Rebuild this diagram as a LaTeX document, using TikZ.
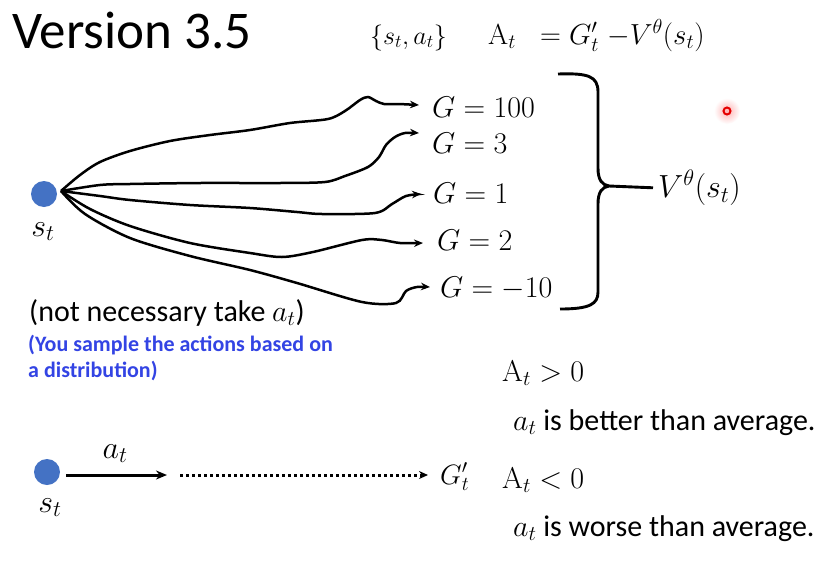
\documentclass[tikz,border=0pt]{standalone}
\usepackage{fix-cm}
\usepackage[no-math]{fontspec}
\setmainfont{Carlito}
\usetikzlibrary{arrows.meta}
\definecolor{dotblue}{HTML}{4472C4}
\definecolor{noteblue}{HTML}{3344E4}
\begin{document}
\begin{tikzpicture}[x=1pt,y=-1pt,
  every node/.style={inner sep=0pt},
  dotnode/.style={circle,fill=dotblue,minimum size=26pt},
  mfont/.style={font=\fontsize{30}{34}\selectfont},
  tfont/.style={font=\fontsize{30}{34}\selectfont},
  sfont/.style={font=\fontsize{32}{36}\selectfont},
  traj/.style={line width=2.5pt,-{Stealth[length=9pt,width=7.5pt]},smooth,tension=0.5},
  bracestyle/.style={line width=2.9pt},
]
\useasboundingbox[fill=white] (0,0) rectangle (830,560);

% title and formula
\node[anchor=base west,font=\fontsize{53}{60}\selectfont] (title) at (12,48) {Version 3.5};
\node[anchor=base west,font=\fontsize{26}{30}\selectfont] (sa) at (370,44) {$\{s_t,a_t\}$};
\node[anchor=base west,font=\fontsize{29}{33}\selectfont] (adv) at (488,44) {$\mathrm{A}_t\;\;=G'_t\;{-}V^{\theta}(s_t)$};

% upper state
\node[dotnode] (s) at (44,194) {};
\node[anchor=base,sfont] (slab) at (43,236) {$s_t$};
\coordinate (o) at (61,191);

% returns
\node[anchor=west,mfont] (g100) at (432,107) {$G=100$};
\node[anchor=west,mfont] (g3) at (432,143) {$G=3$};
\node[anchor=west,mfont] (g1) at (433,193) {$G=1$};
\node[anchor=west,mfont] (g2) at (437,240) {$G=2$};
\node[anchor=west,mfont] (gm10) at (440,288) {$G=-10$};

\coordinate (t100) at (419,105);
\coordinate (t3) at (419,133);
\coordinate (t1) at (421,194);
\coordinate (t2) at (423,243);
\coordinate (tm10) at (430,287);

\draw[traj] plot coordinates {(o) (80,175) (100,162) (130,151) (170,141) (210,135) (250,130) (290,123) (328,119) (345,111) (360,100) (368,97) (376,101) (384,104) (398,104) (t100)};
\draw[traj] plot coordinates {(o) (100,185) (130,184) (200,183) (280,183) (325,182) (345,176) (368,167) (379,157) (386,145) (395,137) (405,133) (t3)};
\draw[traj] plot coordinates {(o) (100,196) (130,200) (190,205) (250,208) (297,212) (322,214) (375,213) (392,204) (406,196) (t1)};
\draw[traj] plot coordinates {(o) (90,209) (130,226) (190,243) (250,253) (282,257) (313,252) (362,240) (382,240) (400,243) (t2)};
\draw[traj] plot coordinates {(o) (85,214) (130,238) (190,256) (250,270) (297,283) (362,302) (396,303) (406,291) (417,287) (tm10)};

% brace
\coordinate (tip) at (609,186);
\draw[bracestyle] (558,74) .. controls (588,73) and (598,76) .. (598,92) -- (598,168) .. controls (598,180) and (602,185) .. (tip);
\draw[bracestyle] (tip) .. controls (602,187) and (598,192) .. (598,204) -- (598,292) .. controls (598,304) and (590,309) .. (560,309);
\node[anchor=west,font=\fontsize{32}{36}\selectfont] (V) at (658,188) {$V^{\theta}(s_t)$};
\draw[bracestyle,shorten >=5pt] (tip) -- (V.west);

% notes
\node[anchor=base west,tfont] (note) at (29,321) {(not necessary take $a_t$)};
\node[anchor=north west,font=\fontsize{22}{26}\selectfont\bfseries,text=noteblue,align=left] (blue) at (28,335) {(You sample the actions based on\\a distribution)};

% laser pointer
\shade[inner color=red!30,outer color=white] (727,111) circle (13);
\draw[red!90!black,line width=2pt] (727,111) circle (3.5);

% lower part
\node[dotnode] (s2) at (47,472) {};
\node[anchor=base,sfont] (s2lab) at (50,512) {$s_t$};
\node[anchor=base,sfont] (alab) at (115,458) {$a_t$};
\coordinate (a1) at (167,475);
\coordinate (d0) at (180,475);
\node[anchor=west,font=\fontsize{28}{32}\selectfont] (gp) at (440,477) {$G'_t$};
\draw[line width=3pt,shorten <=6pt,-{Stealth[length=11pt,width=9pt]}] (s2.east |- a1) -- (a1);
\draw[line width=3pt,dash pattern=on 3pt off 3pt,shorten >=12pt,-{Stealth[length=9pt,width=8pt]}] (d0) -- (gp.west |- d0);

\node[anchor=base west,mfont] (apos) at (502,381) {$\mathrm{A}_t>0$};
\node[anchor=base west,tfont] (better) at (513,430) {$a_t$ is better than average.};
\node[anchor=base west,mfont] (aneg) at (502,488) {$\mathrm{A}_t<0$};
\node[anchor=base west,tfont] (worse) at (513,536) {$a_t$ is worse than average.};
\end{tikzpicture}
\end{document}
